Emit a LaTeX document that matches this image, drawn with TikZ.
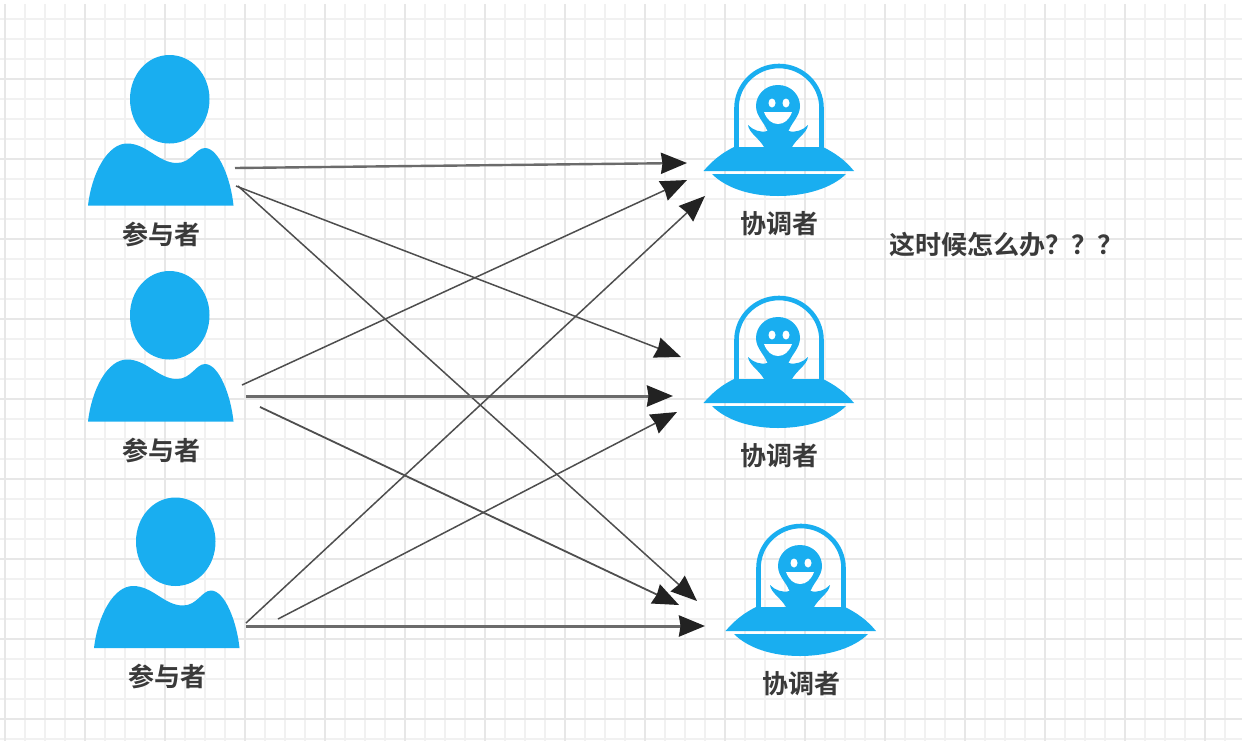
\documentclass[tikz,border=0pt]{standalone}
\usepackage{fontspec}
\setmainfont{Noto Sans CJK SC}[BoldFont={* Bold}]
\usetikzlibrary{arrows.meta}
\definecolor{skyb}{HTML}{19AEF0}
\definecolor{gridmin}{HTML}{F1F1F1}
\definecolor{gridmaj}{HTML}{E7E7E7}
\definecolor{ink}{HTML}{3A3A3A}
\definecolor{tip}{HTML}{222222}
\tikzset{
  x=1pt,y=-1pt,
  minorgrid/.style={gridmin,line width=1.8pt},
  majorgrid/.style={gridmaj,line width=2.2pt},
  caption/.style={font=\fontsize{26}{26}\selectfont\bfseries,text=ink,inner sep=0pt},
  link/.style={draw=ink!90,line width=#1,-{Stealth[length=26pt,width=21pt,inset=1.5pt,fill=tip,color=tip]}},
  link/.default=1.5pt,
  heavylink/.style={link=#1,draw=ink!75},
  person/.pic={
    \fill[skyb] (169.5,55) .. controls (192,55) and (209.5,75) .. (209.5,99)
      .. controls (209.5,124) and (192,143.5) .. (169.5,143.5)
      .. controls (147,143.5) and (130,124) .. (130,99)
      .. controls (130,75) and (147,55) .. (169.5,55) -- cycle;
    \fill[skyb] (88,205.5) .. controls (92,172) and (108,143.5) .. (127,143.5)
      .. controls (147,143.5) and (158,163) .. (177,163)
      .. controls (191,163) and (196,148) .. (205,148)
      .. controls (219,148) and (231,180) .. (233.5,205.5) -- cycle;
    \node[caption] (-label) at (161,234) {参与者};
  },
  ufo/.pic={
    \draw[skyb,line width=4.6pt] (736.5,148) -- (736.5,108)
      arc[start angle=180,end angle=0,x radius=42.5,y radius=-42] -- (821.5,148);
    \fill[skyb] (703.5,171) .. controls (713,160) and (722,153) .. (734,147)
      -- (823,147) .. controls (835,153) and (845,160) .. (854,171)
      -- cycle;
    \fill[skyb] (712,174) -- (846,174)
      .. controls (832,188) and (806,196) .. (778,196)
      .. controls (750,196) and (726,188) .. (712,174) -- cycle;
    \fill[skyb] (778,85) .. controls (791,85) and (800,95) .. (800,106)
      .. controls (800,116) and (792,122) .. (788.5,131)
      .. controls (796,133) and (803,130) .. (808,125)
      .. controls (807,133) and (797,138) .. (792,147)
      -- (764,147) .. controls (759,138) and (749,133) .. (748,125)
      .. controls (753,130) and (760,133) .. (767.5,131)
      .. controls (764,122) and (756,116) .. (756,106)
      .. controls (756,95) and (765,85) .. (778,85) -- cycle;
    \fill[white] (772,103) ellipse[x radius=3.5,y radius=4.5];
    \fill[white] (786,103) ellipse[x radius=3.5,y radius=4.5];
    \fill[white] (764,112) -- (792,112) .. controls (789,120) and (784,124) .. (778,124)
      .. controls (772,124) and (767,120) .. (764,112) -- cycle;
    \node[caption] (-label) at (779,224) {协调者};
  }
}
\begin{document}
\begin{tikzpicture}
\useasboundingbox (0,0) rectangle (1242,748);
\fill[white] (0,0) rectangle (1242,748);
% grid
\foreach \xx in {25,45,65,105,125,145,185,205,225,265,285,305,345,365,385,425,445,465,505,525,545,585,605,625,665,685,705,745,765,785,825,845,865,905,925,945,985,1005,1025,1065,1085,1105,1145,1165,1185,1225}
  \draw[minorgrid] (\xx,4) -- (\xx,741);
\foreach \yy in {19,39,59,99,119,139,179,199,219,259,279,299,339,359,379,419,439,459,499,519,539,579,599,619,659,679,699,739}
  \draw[minorgrid] (0,\yy) -- (1242,\yy);
\foreach \xx in {5,85,165,245,325,405,485,565,645,725,805,885,965,1045,1125,1205}
  \draw[majorgrid] (\xx,4) -- (\xx,741);
\foreach \yy in {79,159,239,319,399,479,559,639,719}
  \draw[majorgrid] (0,\yy) -- (1242,\yy);
% figures
\pic (p1) at (0,0) {person};
\pic (p2) at (0,216) {person};
\pic (p3) at (6,442.5) {person};
\pic (u1) at (0,0) {ufo};
\pic (u2) at (0,232) {ufo};
\pic (u3) at (22,460) {ufo};
\node[caption,anchor=west] (note) at (889,245) {这时候怎么办？？？};
% connector ends
\coordinate (p1a) at (235,168);
\coordinate (p1b) at (236,186);
\coordinate (p1c) at (238,186);
\coordinate (p2a) at (242,385);
\coordinate (p2b) at (246,396);
\coordinate (p2c) at (260,407);
\coordinate (p3a) at (246,623);
\coordinate (p3b) at (278,619);
\coordinate (p3c) at (246,626);
\coordinate (u1a) at (687,163);
\coordinate (u1b) at (687,180);
\coordinate (u1c) at (705,196);
\coordinate (u2a) at (681,357);
\coordinate (u2b) at (673,396);
\coordinate (u2c) at (677,412);
\coordinate (u3a) at (697,601);
\coordinate (u3b) at (679,605);
\coordinate (u3c) at (705,626);
% connectors
\draw[heavylink=2.4pt] (p1a) -- (u1a);
\draw[link] (p1b) -- (u2a);
\draw[link] (p1c) -- (u3a);
\draw[link] (p2a) -- (u1b);
\draw[heavylink=3pt] (p2b) -- (u2b);
\draw[link=1.8pt] (p2c) -- (u3b);
\draw[link] (p3a) -- (u1c);
\draw[link] (p3b) -- (u2c);
\draw[heavylink=3pt] (p3c) -- (u3c);
\end{tikzpicture}
\end{document}
